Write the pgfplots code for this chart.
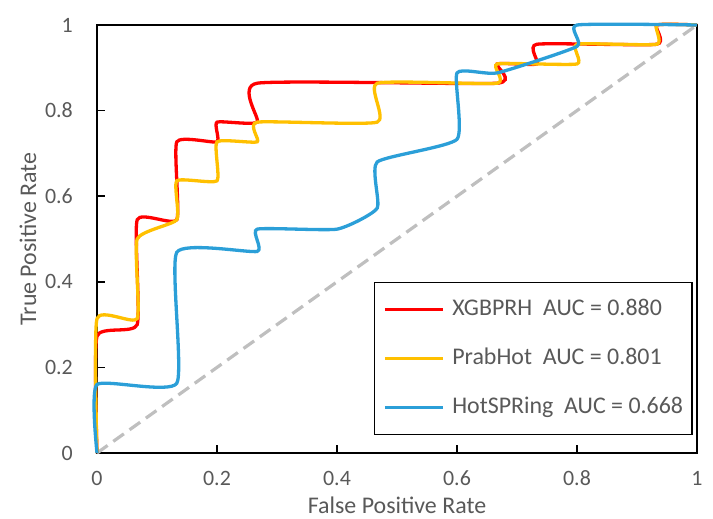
\documentclass[border=0pt]{standalone}
\usepackage{pgfplots}
\pgfplotsset{compat=1.18}
\usepackage{fontspec}
\setmainfont{Carlito}
\usetikzlibrary{calc}
\definecolor{txtgray}{HTML}{595959}
\definecolor{cred}{HTML}{FF0000}
\definecolor{cyel}{HTML}{FFC000}
\definecolor{cblue}{HTML}{2B9FD8}
\definecolor{dgray}{HTML}{BFBFBF}

\begin{document}
\begin{tikzpicture}
\begin{axis}[
  name=main,
  scale only axis,
  width=600bp, height=428bp,
  xmin=0, xmax=1, ymin=0, ymax=1,
  clip=false,
  axis line style={black, line width=1.8bp},
  xtick={0,0.2,0.4,0.6,0.8,1},
  ytick={0,0.2,0.4,0.6,0.8,1},
  xticklabels={0,0.2,0.4,0.6,0.8,1},
  yticklabels={0,0.2,0.4,0.6,0.8,1},
  tick align=inside,
  xtick pos=bottom, ytick pos=left,
  major tick length=8bp,
  tick style={black, line width=1.5bp},
  /pgf/number format/assume math mode=true,
  ticklabel style={font=\fontsize{22}{26}\selectfont, text=txtgray, inner sep=0pt},
  xticklabel style={anchor=center, yshift=-25bp},
  yticklabel style={anchor=east, xshift=-24bp},
  xlabel={False Positive Rate},
  ylabel={True Positive Rate},
  label style={font=\fontsize{24}{28}\selectfont, text=txtgray, inner sep=0pt},
  xlabel style={at={(axis description cs:0.5,-0.1215)}, anchor=center},
  ylabel style={at={(axis description cs:-0.115,0.5)}, anchor=center},
  legend style={at={(0.993,0.042)}, anchor=south east, draw=black, line width=1.5bp,
    font=\fontsize{24}{28}\selectfont, text=txtgray,
    inner xsep=9bp, inner ysep=16bp, row sep=27bp, column sep=9bp,
    nodes={inner sep=0pt, text height=17bp, text depth=5bp}},
  legend cell align=left,
  legend image code/.code={\draw[#1, line width=3bp, dash pattern=on 1pt off 0pt] (0bp,0bp) -- (57bp,0bp);},
]
\addplot[dgray, line width=3.2bp, dash pattern=on 13bp off 7bp, forget plot] coordinates {(0,0) (1,1)};

\addplot[cred, line width=3.3bp, smooth, tension=0.3] coordinates {
(0,0) (0,0.273) (0.067,0.3) (0.067,0.545) (0.133,0.545) (0.133,0.727)
(0.2,0.727) (0.2,0.773) (0.267,0.773) (0.267,0.864) (0.667,0.864)
(0.667,0.909) (0.733,0.909) (0.733,0.955) (0.933,0.955) (0.933,1) (1,1)};
\addlegendentry{XGBPRH\ \ AUC = 0.880}

\addplot[cyel, line width=3.3bp, smooth, tension=0.3] coordinates {
(0,0) (0,0.314) (0.067,0.314) (0.067,0.5) (0.133,0.545) (0.133,0.636)
(0.2,0.636) (0.2,0.727) (0.267,0.727) (0.267,0.773) (0.467,0.773)
(0.467,0.864) (0.667,0.864) (0.667,0.909) (0.8,0.909) (0.8,0.955)
(0.933,0.955) (0.933,1) (1,1)};
\addlegendentry{PrabHot\ \ AUC = 0.801}

\addplot[cblue, line width=3.3bp, smooth, tension=0.3] coordinates {
(0,0) (0,0.16) (0.133,0.163) (0.133,0.469) (0.267,0.471) (0.267,0.523)
(0.4,0.523) (0.467,0.572) (0.467,0.68) (0.6,0.733) (0.6,0.888)
(0.667,0.888) (0.8,0.95) (0.8,1) (1,1)};
\addlegendentry{HotSPRing\ \ AUC = 0.668}
\end{axis}
\pgfresetboundingbox
\path[use as bounding box] ($(main.south west)+(-97bp,-66bp)$) rectangle ($(main.north east)+(16bp,25bp)$);
\end{tikzpicture}
\end{document}
